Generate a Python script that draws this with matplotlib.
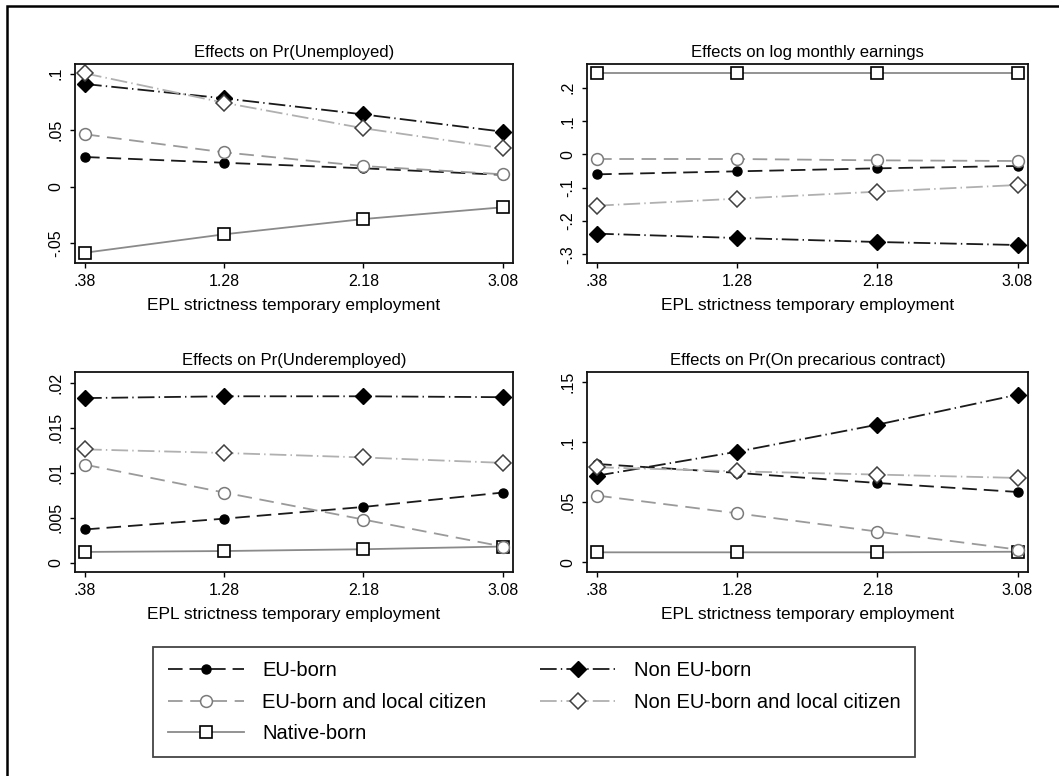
import matplotlib
matplotlib.use("Agg")
import matplotlib.pyplot as plt
from matplotlib.lines import Line2D
from matplotlib.patches import Rectangle

plt.rcParams['font.family'] = ['Liberation Sans', 'DejaVu Sans']
plt.rcParams['lines.scale_dashes'] = False

x = [0.38, 1.28, 2.18, 3.08]
xticklabels = [".38", "1.28", "2.18", "3.08"]

series_names = ["EU-born", "EU-born and local citizen", "Native-born",
                "Non EU-born", "Non EU-born and local citizen"]

# Effects on Pr(Unemployed)
unemp_eu = [0.0263, 0.0212, 0.0163, 0.0105]
unemp_eu_cit = [0.0464, 0.0304, 0.0183, 0.0110]
unemp_native = [-0.0584, -0.0421, -0.0286, -0.0182]
unemp_noneu = [0.0909, 0.0782, 0.0640, 0.0487]
unemp_noneu_cit = [0.1003, 0.0743, 0.0517, 0.0340]

# Effects on log monthly earnings
earn_eu = [-0.060, -0.051, -0.042, -0.035]
earn_eu_cit = [-0.014, -0.014, -0.018, -0.020]
earn_native = [0.243, 0.243, 0.243, 0.243]
earn_noneu = [-0.238, -0.251, -0.263, -0.272]
earn_noneu_cit = [-0.154, -0.133, -0.112, -0.092]

# Effects on Pr(Underemployed)
under_eu = [0.0037, 0.0049, 0.0062, 0.0078]
under_eu_cit = [0.0109, 0.0078, 0.0048, 0.0018]
under_native = [0.0012, 0.0013, 0.0015, 0.0018]
under_noneu = [0.0183, 0.0185, 0.0185, 0.0184]
under_noneu_cit = [0.0126, 0.0122, 0.0117, 0.0111]

# Effects on Pr(On precarious contract)
prec_eu = [0.0819, 0.0745, 0.0661, 0.0586]
prec_eu_cit = [0.0556, 0.0408, 0.0256, 0.0106]
prec_native = [0.0083, 0.0083, 0.0083, 0.0088]
prec_noneu = [0.0722, 0.0922, 0.1147, 0.1397]
prec_noneu_cit = [0.0792, 0.0758, 0.0731, 0.0703]

panels = [
    ("Effects on Pr(Unemployed)", [unemp_eu, unemp_eu_cit, unemp_native, unemp_noneu, unemp_noneu_cit],
     [-0.05, 0, 0.05, 0.1], ["-.05", "0", ".05", ".1"], (-0.0675, 0.1086)),
    ("Effects on log monthly earnings", [earn_eu, earn_eu_cit, earn_native, earn_noneu, earn_noneu_cit],
     [-0.3, -0.2, -0.1, 0, 0.1, 0.2], ["-.3", "-.2", "-.1", "0", ".1", ".2"], (-0.326, 0.271)),
    ("Effects on Pr(Underemployed)", [under_eu, under_eu_cit, under_native, under_noneu, under_noneu_cit],
     [0, 0.005, 0.01, 0.015, 0.02], ["0", ".005", ".01", ".015", ".02"], (-0.00103, 0.0212)),
    ("Effects on Pr(On precarious contract)", [prec_eu, prec_eu_cit, prec_native, prec_noneu, prec_noneu_cit],
     [0, 0.05, 0.1, 0.15], ["0", ".05", ".1", ".15"], (-0.0081, 0.1586)),
]

styles = [
    dict(color="#1a1a1a", dashes=(10.5, 5), marker="o", ms=6.5, mfc="black", mec="black", mew=1.0, lw=1.3),
    dict(color="#9a9a9a", dashes=(10.5, 5.5), marker="o", ms=8.5, mfc="white", mec="#7a7a7a", mew=1.1, lw=1.3),
    dict(color="#8a8a8a", dashes=None, marker="s", ms=8.5, mfc="white", mec="black", mew=1.2, lw=1.3),
    dict(color="#1a1a1a", dashes=(12, 3, 1, 3), marker="D", ms=8.3, mfc="black", mec="black", mew=1.0, lw=1.3),
    dict(color="#b0b0b0", dashes=(12, 3, 1, 3), marker="D", ms=8.3, mfc="white", mec="#404040", mew=1.1, lw=1.3),
]
draw_order = [2, 0, 1, 3, 4]

W, H = 1059, 776
fig = plt.figure(figsize=(W / 100, H / 100), dpi=100)

boxes = [(75, 64, 513, 263), (587, 64, 1028, 263), (75, 372, 513, 572), (587, 372, 1028, 572)]

def style_kw(st):
    kw = dict(color=st["color"], lw=st["lw"], marker=st["marker"], ms=st["ms"],
              mfc=st["mfc"], mec=st["mec"], mew=st["mew"])
    if st["dashes"] is not None:
        kw["dashes"] = st["dashes"]
    else:
        kw["ls"] = "-"
    return kw

for (title, data, yt, ytl, ylim), (l, t, r, b) in zip(panels, boxes):
    ax = fig.add_axes([l / W, 1 - b / H, (r - l) / W, (b - t) / H])
    for i in draw_order:
        ax.plot(x, data[i], **style_kw(styles[i]))
    ax.set_xlim(0.315, 3.147)
    ax.set_ylim(*ylim)
    ax.set_xticks(x)
    ax.set_xticklabels(xticklabels)
    ax.set_yticks(yt)
    ax.set_yticklabels(ytl, rotation=90, va="center")
    ax.tick_params(axis="both", direction="out", length=3.6, width=1.0, labelsize=11.5, color="black")
    ax.tick_params(axis="x", pad=4)
    ax.tick_params(axis="y", pad=5)
    for s in ax.spines.values():
        s.set_linewidth(1.3)
        s.set_color("#111111")
    ax.set_title(title, fontsize=12, pad=5)
    ax.set_xlabel("EPL strictness temporary employment", fontsize=12.5, labelpad=6.5)

handles = [Line2D([], [], **style_kw(st)) for st in styles]

leg = fig.legend(handles, series_names, ncol=2, loc="upper left",
                 bbox_to_anchor=(153 / W, 1 - 647 / H), fontsize=14.5,
                 handlelength=3.8, handletextpad=0.9, columnspacing=2.65,
                 labelspacing=0.6, borderpad=0.72, borderaxespad=0, fancybox=False, framealpha=1,
                 edgecolor="#444444", numpoints=1)
leg.get_frame().set_linewidth(1.3)

# outer frame
fig.patches.append(Rectangle((7 / W, -0.05), 1.1, 1 - 6 / H + 0.05, transform=fig.transFigure,
                             fill=False, edgecolor="black", lw=1.8, figure=fig))

fig.savefig("out.png", dpi=100)
